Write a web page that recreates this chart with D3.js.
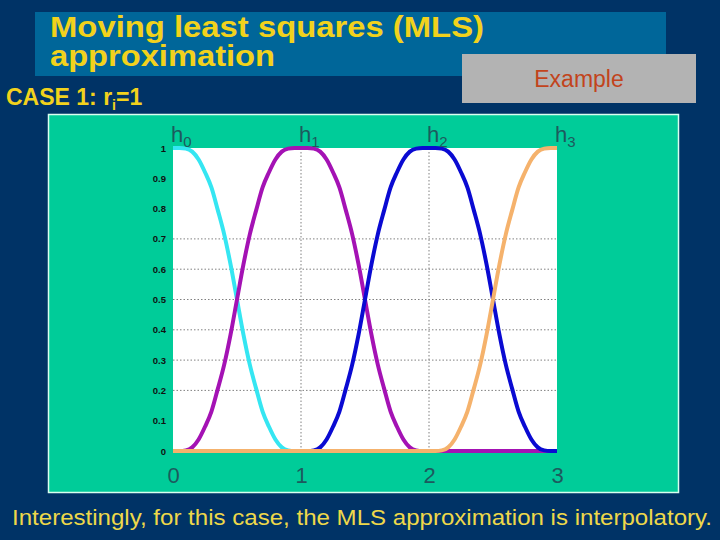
<!DOCTYPE html>
<html>
<head>
<meta charset="utf-8">
<script src="https://cdn.jsdelivr.net/npm/d3@7/dist/d3.min.js"></script>
<style>
  html, body { margin: 0; padding: 0; background: #003366; }
  svg { display: block; }
</style>
</head>
<body>
<svg id="chart" width="720" height="540"></svg>
<script>
// ---------------- data ----------------
const xs = [0,0.05,0.1,0.15,0.2,0.25,0.3,0.35,0.4,0.45,0.5,0.55,0.6,0.65,0.7,0.75,0.8,0.85,0.9,0.95,
            1,1.05,1.1,1.15,1.2,1.25,1.3,1.35,1.4,1.45,1.5,1.55,1.6,1.65,1.7,1.75,1.8,1.85,1.9,1.95,
            2,2.05,2.1,2.15,2.2,2.25,2.3,2.35,2.4,2.45,2.5,2.55,2.6,2.65,2.7,2.75,2.8,2.85,2.9,2.95,3];

const h0 = [1,1,0.998,0.988,0.962,0.92,0.87,0.795,0.715,0.615,0.5,0.385,0.285,0.205,0.13,0.08,0.038,0.012,0.002,0,
            0,0,0,0,0,0,0,0,0,0,0,0,0,0,0,0,0,0,0,0,
            0,0,0,0,0,0,0,0,0,0,0,0,0,0,0,0,0,0,0,0,0];
const h1 = [0,0,0.002,0.012,0.038,0.08,0.13,0.205,0.285,0.385,0.5,0.615,0.715,0.795,0.87,0.92,0.962,0.988,0.998,1,
            1,1,0.998,0.988,0.962,0.92,0.87,0.795,0.715,0.615,0.5,0.385,0.285,0.205,0.13,0.08,0.038,0.012,0.002,0,
            0,0,0,0,0,0,0,0,0,0,0,0,0,0,0,0,0,0,0,0,0];
const h2 = [0,0,0,0,0,0,0,0,0,0,0,0,0,0,0,0,0,0,0,0,
            0,0,0.002,0.012,0.038,0.08,0.13,0.205,0.285,0.385,0.5,0.615,0.715,0.795,0.87,0.92,0.962,0.988,0.998,1,
            1,1,0.998,0.988,0.962,0.92,0.87,0.795,0.715,0.615,0.5,0.385,0.285,0.205,0.13,0.08,0.038,0.012,0.002,0,0];
const h3 = [0,0,0,0,0,0,0,0,0,0,0,0,0,0,0,0,0,0,0,0,
            0,0,0,0,0,0,0,0,0,0,0,0,0,0,0,0,0,0,0,0,
            0,0,0.002,0.012,0.038,0.08,0.13,0.205,0.285,0.385,0.5,0.615,0.715,0.795,0.87,0.92,0.962,0.988,0.998,1,1];

const seriesNames = ["0", "1", "2", "3"];
const seriesValues = [h0, h1, h2, h3];
const seriesColors = ["#35e6f2", "#a412b4", "#0a0ad2", "#f5b26c"];

const xTicks = [0, 1, 2, 3];
const yTicks = [0, 0.1, 0.2, 0.3, 0.4, 0.5, 0.6, 0.7, 0.8, 0.9, 1];
const yTickLabels = ["0", "0.1", "0.2", "0.3", "0.4", "0.5", "0.6", "0.7", "0.8", "0.9", "1"];
const yGrid = [0.2, 0.3, 0.4, 0.5, 0.6, 0.7];
const xGrid = [1, 2];

// ---------------- drawing ----------------
const svg = d3.select("#chart");
const yellow = "#f2d21c";
const font = "Liberation Sans, Arial, sans-serif";

svg.append("rect").attr("width", 720).attr("height", 540).attr("fill", "#003366");

// title box
svg.append("rect").attr("x", 35).attr("y", 12).attr("width", 631).attr("height", 64).attr("fill", "#006699");
const title = svg.append("text")
  .attr("font-family", font).attr("font-weight", "bold")
  .attr("font-size", 30).attr("fill", yellow);
title.append("tspan").attr("x", 50).attr("y", 37)
  .attr("textLength", 434).attr("lengthAdjust", "spacingAndGlyphs")
  .text("Moving least squares (MLS)");
title.append("tspan").attr("x", 50).attr("y", 66)
  .attr("textLength", 225).attr("lengthAdjust", "spacingAndGlyphs")
  .text("approximation");

// Example box
svg.append("rect").attr("x", 462).attr("y", 54).attr("width", 234).attr("height", 49).attr("fill", "#b3b3b3");
svg.append("text").attr("x", 579).attr("y", 87).attr("text-anchor", "middle")
  .attr("font-family", font).attr("font-size", 23)
  .attr("fill", "#c2441c").text("Example");

// CASE label
const caseT = svg.append("text").attr("x", 6).attr("y", 105)
  .attr("font-family", font).attr("font-weight", "bold")
  .attr("font-size", 23).attr("fill", yellow);
caseT.append("tspan").text("CASE 1: r");
caseT.append("tspan").attr("font-size", 14).attr("dy", 5).text("i");
caseT.append("tspan").attr("dy", -5).text("=1");

// green panel
svg.append("rect").attr("x", 48.5).attr("y", 114.5).attr("width", 630).attr("height", 378)
  .attr("fill", "#00cc99").attr("stroke", "#d8fff0").attr("stroke-width", 1.5);

// scales
const x = d3.scaleLinear().domain([0, 3]).range([173, 557]);
const y = d3.scaleLinear().domain([0, 1]).range([451, 148]);

// plot area
svg.append("rect").attr("x", x(0)).attr("y", y(1))
  .attr("width", x(3) - x(0)).attr("height", y(0) - y(1)).attr("fill", "#ffffff");

// grid
svg.append("g").selectAll("line").data(yGrid).join("line")
  .attr("x1", x(0)).attr("x2", x(3)).attr("y1", d => y(d)).attr("y2", d => y(d))
  .attr("stroke", "#808080").attr("stroke-width", 1).attr("stroke-dasharray", "1.5,2");
svg.append("g").selectAll("line").data(xGrid).join("line")
  .attr("x1", d => x(d)).attr("x2", d => x(d)).attr("y1", y(0)).attr("y2", y(1))
  .attr("stroke", "#808080").attr("stroke-width", 1).attr("stroke-dasharray", "1.5,2");

// y axis
const yAxis = svg.append("g").attr("transform", `translate(${x(0)},0)`)
  .call(d3.axisLeft(y).tickValues(yTicks).tickSize(0).tickPadding(7)
    .tickFormat((d, i) => yTickLabels[i]));
yAxis.select(".domain").remove();
yAxis.selectAll("text").attr("font-family", font)
  .attr("font-weight", "bold").attr("font-size", 9.5).attr("fill", "#111");

// x axis
const xAxis = svg.append("g").attr("transform", `translate(0,${y(0)})`)
  .call(d3.axisBottom(x).tickValues(xTicks).tickSize(0).tickPadding(16).tickFormat(d3.format("d")));
xAxis.select(".domain").remove();
xAxis.selectAll("text").attr("font-family", font)
  .attr("font-size", 22).attr("fill", "#1d5a5e");

// curves
const line = d3.line().x((d, i) => x(xs[i])).y(d => y(d)).curve(d3.curveMonotoneX);
svg.append("g").selectAll("path").data(seriesValues).join("path")
  .attr("d", d => line(d)).attr("fill", "none")
  .attr("stroke", (d, i) => seriesColors[i]).attr("stroke-width", 4)
  .attr("stroke-linejoin", "round");

// h labels
const hl = svg.append("g").selectAll("text").data(seriesNames).join("text")
  .attr("x", (d, i) => x(xTicks[i]) - 2).attr("y", 142)
  .attr("font-family", font).attr("font-size", 22)
  .attr("fill", "#1d5a5e");
hl.append("tspan").text("h");
hl.append("tspan").attr("font-size", 15).attr("dy", 5).text(d => d);

// bottom sentence
svg.append("text").attr("x", 12).attr("y", 525)
  .attr("font-family", font).attr("font-size", 22)
  .attr("fill", "#eed84a").attr("textLength", 700).attr("lengthAdjust", "spacingAndGlyphs")
  .text("Interestingly, for this case, the MLS approximation is interpolatory.");
</script>
</body>
</html>
